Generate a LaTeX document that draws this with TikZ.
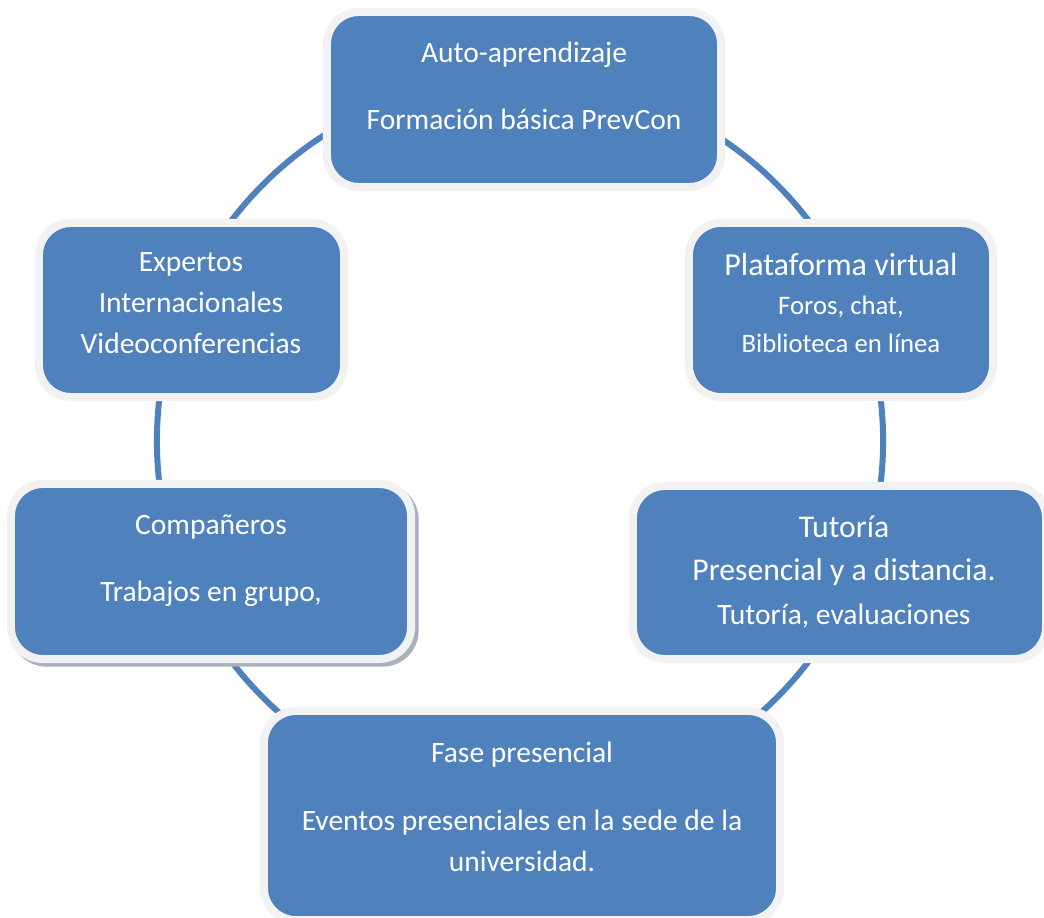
\documentclass[tikz,border=0pt]{standalone}
\usepackage{fontspec}
\setmainfont{Carlito}
\usetikzlibrary{shadows,positioning}
\definecolor{boxblue}{HTML}{4F81BD}
\definecolor{boxrim}{HTML}{F2F2F2}
\definecolor{shadowgray}{HTML}{A9B1BF}
\newcommand\lgtx{\fontsize{22.8}{31}\selectfont}
\newcommand\smtx{\fontsize{19}{27}\selectfont}
\newcommand\mdtx{\fontsize{21}{29}\selectfont}
\tikzset{
	phase/.style={rectangle,rounded corners=0.8cm,fill=boxblue,draw=boxrim,line width=0.2cm,inner sep=0},
	phaseshadow/.style={general shadow={shadow xshift=0.09cm,shadow yshift=-0.09cm,fill=shadowgray,draw=shadowgray,line width=0.2cm}},
	phasetext/.style={text=white,align=center,inner sep=0,font=\fontsize{21}{29.1}\selectfont},
	ringline/.style={circle,draw=boxblue,line width=0.15cm,inner sep=0,minimum size=18.15cm}
}
\begin{document}
\begin{tikzpicture}[x=0.025cm,y=-0.025cm]
	\useasboundingbox (0,0) rectangle (1044,918);
	
	%%%% ring
	\node[ringline] (ring) at (520,441) {};
	
	%%%% boxes
	\node[phase,minimum width=9.85cm,minimum height=4.375cm] (auto) at (524,99.5) {};
	\node[phase,minimum width=7.6cm,minimum height=4.35cm] (plat) at (841,310) {};
	\node[phase,minimum width=10.325cm,minimum height=4.325cm] (tut) at (839.5,572.5) {};
	\node[phase,minimum width=12.9cm,minimum height=5.225cm] (fase) at (522,815.5) {};
	\node[phase,phaseshadow,minimum width=10cm,minimum height=4.375cm] (comp) at (211,571.5) {};
	\node[phase,minimum width=7.625cm,minimum height=4.35cm] (expo) at (191.5,310) {};
	
	%%%% texts
	\node[phasetext] (autotx) at (524,86) {Auto-aprendizaje\\[18.5pt]Formación básica PrevCon};
	\node[phasetext,font=\fontsize{19}{27.5}\selectfont] (plattx) at (841,303) {{\lgtx Plataforma virtual}\\{\smtx Foros, chat,}\\{\smtx Biblioteca en línea}};
	\node[phasetext,font=\fontsize{22.5}{31}\selectfont] (tuttx) at (844,572) {Tutoría\\Presencial y a distancia.\\{\mdtx Tutoría, evaluaciones}};
	\node[phasetext] (fasetx) at (522,807) {Fase presencial\\[19pt]Eventos presenciales en la sede de la\\universidad.};
	\node[phasetext] (comptx) at (211,560.5) {Compañeros\\[18.5pt]Trabajos en grupo,};
	\node[phasetext] (expotx) at (191,303.5) {Expertos\\Internacionales\\Videoconferencias};
	
\end{tikzpicture}
\end{document}
